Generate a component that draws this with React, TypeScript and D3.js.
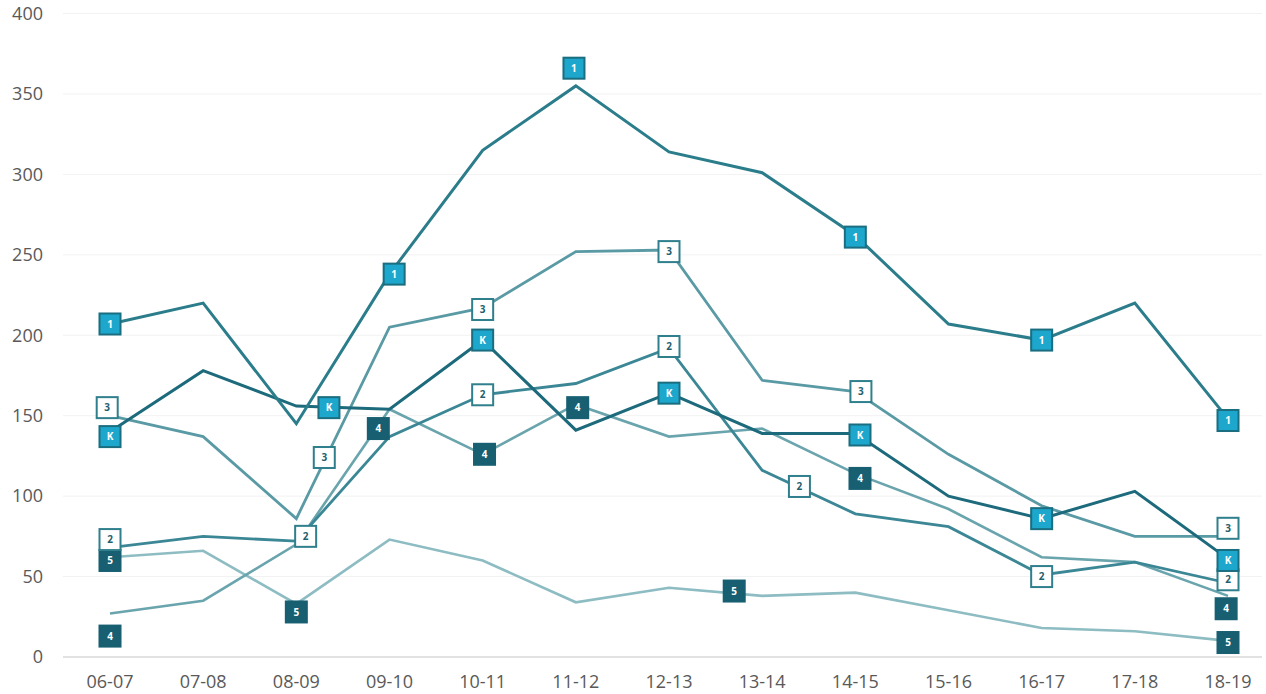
import React from "react";
import * as d3 from "d3";

const categories = ["06-07","07-08","08-09","09-10","10-11","11-12","12-13","13-14","14-15","15-16","16-17","17-18","18-19"];
const yTicks = [0, 50, 100, 150, 200, 250, 300, 350, 400];

const series1 = [207, 220, 145, 238, 315, 355, 314, 301, 262, 207, 197, 220, 148];
const seriesK = [140, 178, 156, 154, 197, 141, 164, 139, 139, 100, 86, 103, 61];
const series2 = [68, 75, 72, 137, 163, 170, 192, 116, 89, 81, 51, 59, 46];
const series3 = [150, 137, 86, 205, 217, 252, 253, 172, 165, 126, 94, 75, 75];
const series4 = [27, 35, 70, 154, 126, 157, 137, 142, 114, 92, 62, 59, 38];
const series5 = [62, 66, 33, 73, 60, 34, 43, 38, 40, 29, 18, 16, 10];

// label markers: [category index (fractional), value]
const markers1 = [[0, 207], [3.05, 238], [4.98, 366], [8, 261], [10, 197], [12, 147]];
const markersK = [[0, 137], [2.35, 155], [4, 197], [6, 164], [8.05, 138], [10, 86], [12, 60]];
const markers2 = [[0, 73], [2.1, 75], [4, 163], [6, 193], [7.4, 106], [10, 50], [12, 48]];
const markers3 = [[-0.03, 155], [2.3, 124], [4, 216], [6, 252], [8.06, 165], [12, 80]];
const markers4 = [[0, 13], [2.88, 142], [4.02, 126], [5.02, 155], [8.05, 111], [11.98, 30]];
const markers5 = [[0, 60], [2, 28], [6.7, 41], [12, 9]];

const W = 1266, H = 694;
const x0 = 110, x1 = 1228;
const yBottom = 657, yTop = 13.5;

type S = { name: string; values: number[]; markers: number[][]; color: string; width: number; fill: string; stroke: string; text: string };

const cyan = "#1da7cd";
const dark = "#175f71";

const seriesList: S[] = [
  { name: "5", values: series5, markers: markers5, color: "#8dbcc2", width: 2.6, fill: dark, stroke: dark, text: "#fff" },
  { name: "4", values: series4, markers: markers4, color: "#6aa4ad", width: 2.6, fill: dark, stroke: dark, text: "#fff" },
  { name: "3", values: series3, markers: markers3, color: "#5a9aa5", width: 2.8, fill: "#fff", stroke: "#2f7f8c", text: "#1f5f6e" },
  { name: "2", values: series2, markers: markers2, color: "#3b8795", width: 2.8, fill: "#fff", stroke: "#2f7f8c", text: "#1f5f6e" },
  { name: "K", values: seriesK, markers: markersK, color: "#1c6a7b", width: 3, fill: cyan, stroke: "#1a6e80", text: "#fff" },
  { name: "1", values: series1, markers: markers1, color: "#2b7d8b", width: 3, fill: cyan, stroke: "#1a6e80", text: "#fff" },
];

export default function App() {
  const x = d3.scaleLinear().domain([0, categories.length - 1]).range([x0, x1]);
  const y = d3.scaleLinear().domain([0, 400]).range([yBottom, yTop]);
  const line = d3.line<number>().x((_, i) => x(i)).y((d) => y(d));
  const font = "'Open Sans', 'Noto Sans', sans-serif";
  const ms = 21;

  return (
    <svg width={W} height={H} style={{ position: "absolute", left: 0, top: 0, background: "#fff" }} fontFamily={font}>
      {yTicks.map((t) => (
        <g key={t}>
          <line x1={63} x2={1262} y1={y(t)} y2={y(t)} stroke={t === 0 ? "#d9d9d9" : "#f2f2f2"} strokeWidth={t === 0 ? 1.5 : 1} />
          <text x={43} y={y(t)} dy="0.35em" textAnchor="end" fontSize={18} fill="#595959">{t}</text>
        </g>
      ))}
      {categories.map((c, i) => (
        <text key={c} x={x(i)} y={682} dy="0.35em" textAnchor="middle" fontSize={18} fill="#595959">{c}</text>
      ))}
      {seriesList.map((s) => (
        <path key={s.name} d={line(s.values) || ""} fill="none" stroke={s.color} strokeWidth={s.width} strokeLinejoin="miter" />
      ))}
      {seriesList.map((s) => (
        <g key={"m" + s.name}>
          {s.markers.map(([ci, v], j) => (
            <g key={j} transform={`translate(${x(ci)},${y(v)})`}>
              <rect x={-ms / 2} y={-ms / 2} width={ms} height={ms} fill={s.fill} stroke={s.stroke} strokeWidth={2} />
              <text x={0} y={0} dy="0.36em" textAnchor="middle" fontSize={10} fontWeight={700} fill={s.text}>{s.name}</text>
            </g>
          ))}
        </g>
      ))}
    </svg>
  );
}
